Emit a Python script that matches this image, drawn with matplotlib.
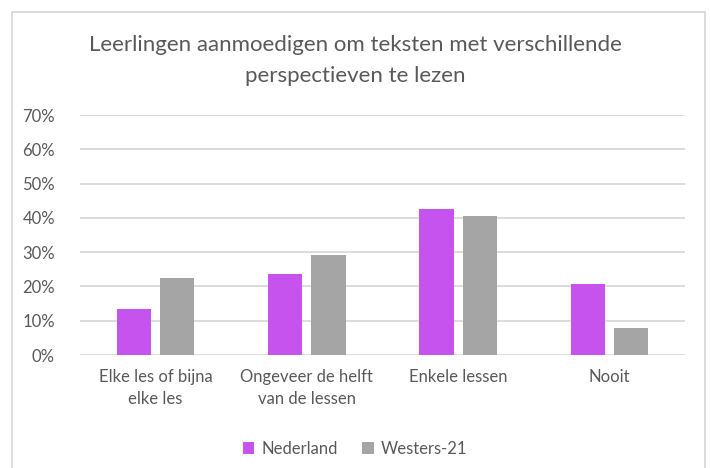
import numpy as np
import matplotlib.pyplot as plt
from matplotlib.patches import Rectangle

# data
categories = ['Elke les of bijna\nelke les', 'Ongeveer de helft\nvan de lessen', 'Enkele lessen', 'Nooit']
nederland = [13.4, 23.6, 42.6, 20.7]
westers21 = [22.4, 29.2, 40.5, 7.9]
series_names = ['Nederland', 'Westers-21']
colors = ['#C653EE', '#A5A5A5']

plt.rcParams['font.family'] = ['Lato', 'DejaVu Sans']
text_color = '#595959'

fig = plt.figure(figsize=(7.10, 4.68), dpi=100)
ax = fig.add_axes([80/710, 1 - 355/468, 605/710, 240/468])

x = np.arange(len(categories))
w = 0.225
ax.bar(x - 0.143, nederland, w, color=colors[0], label=series_names[0], zorder=3)
ax.bar(x + 0.143, westers21, w, color=colors[1], label=series_names[1], zorder=3)

ax.set_xlim(-0.5, len(categories) - 0.5)
ax.set_ylim(0, 70)
ax.set_yticks(np.arange(0, 71, 10))
ax.set_yticklabels([f'{v}%' for v in range(0, 71, 10)])
ax.set_xticks(x)
ax.set_xticklabels(categories, linespacing=1.45)
ax.tick_params(axis='both', length=0, colors=text_color, labelsize=12)
ax.tick_params(axis='y', pad=18)
ax.tick_params(axis='x', pad=10)
ax.grid(axis='y', color='#D9D9D9', linewidth=1.3, zorder=0)
for s in ax.spines.values():
    s.set_visible(False)

fig.text(0.5, 1 - 45/468, 'Leerlingen aanmoedigen om teksten met verschillende',
         ha='center', va='center', fontsize=16, color=text_color)
fig.text(0.5, 1 - 76/468, 'perspectieven te lezen',
         ha='center', va='center', fontsize=16, color=text_color)

fig.legend(loc='center', bbox_to_anchor=(0.5, 1 - 449/468), ncol=2, frameon=False,
           fontsize=12, labelcolor=text_color, handlelength=0.7, handleheight=0.7,
           handletextpad=0.4, columnspacing=1.5)

# outer chart border
fig.patches.append(Rectangle((12/710, -0.01), 693/710, 1 - 12/468 + 0.01,
                             transform=fig.transFigure, fill=False,
                             edgecolor='#D9D9D9', linewidth=1.3))

fig.savefig('out.png', dpi=100)
